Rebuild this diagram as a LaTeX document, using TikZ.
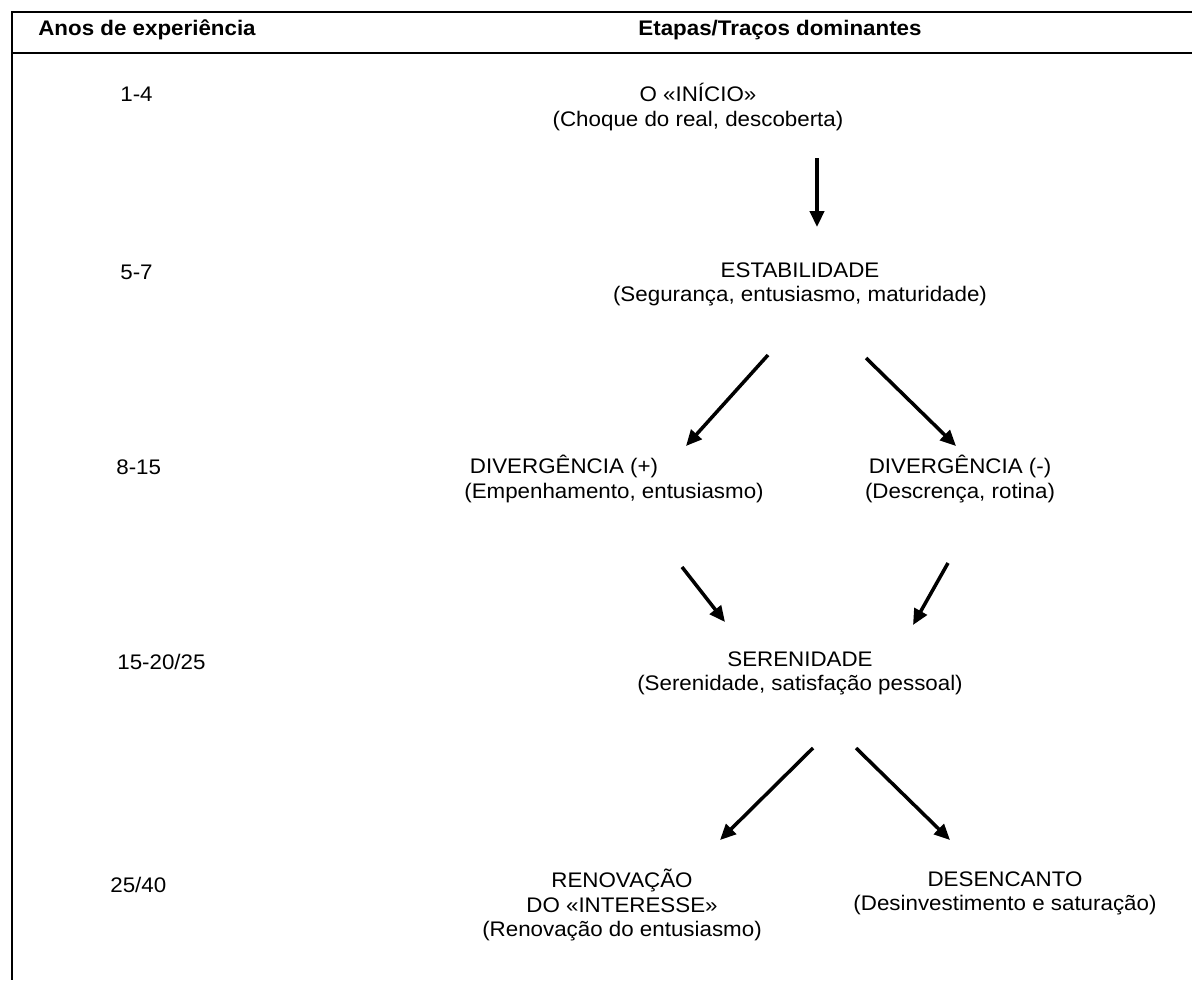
\documentclass[tikz,border=0pt]{standalone}
\usepackage{fontspec}
\setmainfont{Liberation Sans}[FakeStretch=1.06]
\usetikzlibrary{arrows.meta}

\begin{document}
\begin{tikzpicture}[x=0.02cm,y=-0.02cm,
        every node/.style={font=\fontsize{12}{13.8}\selectfont, align=center, inner sep=0pt},
        head/.style={font=\fontsize{12}{13.8}\selectfont\bfseries},
        ano/.style={anchor=west},
        seta/.style={-{Triangle[length=9pt,width=8pt]}, line width=2pt},
        moldura/.style={line width=1.4pt}]
        \useasboundingbox (0,0) rectangle (1192,980);

        \draw[moldura] (1192,12) -- (12,12) -- (12,980);
        \draw[moldura] (12,53) -- (1192,53);

        \node[head] (anos) at (147,30) {Anos de experiência};
        \node[head] (etapas) at (780,30) {Etapas/Traços dominantes};

        \node[ano] (a1) at (120,94) {1-4};
        \node[ano] (a2) at (120,272) {5-7};
        \node[ano] (a3) at (116,467) {8-15};
        \node[ano] (a4) at (117,662) {15-20/25};
        \node[ano] (a5) at (110,885) {25/40};

        \node (inicio) at (698,107) {O «INÍCIO»\\(Choque do real, descoberta)};
        \node (estab) at (800,284) {ESTABILIDADE\\(Segurança, entusiasmo, maturidade)};
        \node (divp) at (614,479) {DIVERGÊNCIA (+)\hspace*{2cm}\\(Empenhamento, entusiasmo)};
        \node (divm) at (960,479) {DIVERGÊNCIA (-)\\(Descrença, rotina)};
        \node (seren) at (800,673) {SERENIDADE\\(Serenidade, satisfação pessoal)};
        \node (renov) at (622,905) {RENOVAÇÃO\\DO «INTERESSE»\\(Renovação do entusiasmo)};
        \node (desenc) at (1005,893) {DESENCANTO\\(Desinvestimento e saturação)};

        \draw[seta]([shift={(119,51)}]inicio.center)--([shift={(17,-57)}]estab.center);
        \draw[seta]([shift={(-32,71)}]estab.center)--([shift={(72,-33)}]divp.center);
        \draw[seta]([shift={(66,74)}]estab.center)--([shift={(-4,-33)}]divm.center);
        \draw[seta]([shift={(68,88)}]divp.center)--([shift={(-75,-51)}]seren.center);
        \draw[seta]([shift={(-12,84)}]divm.center)--([shift={(113,-48)}]seren.center);
        \draw[seta]([shift={(13,75)}]seren.center)--([shift={(98,-65)}]renov.center);
        \draw[seta]([shift={(56,75)}]seren.center)--([shift={(-55,-53)}]desenc.center);
    \end{tikzpicture}
\end{document}
